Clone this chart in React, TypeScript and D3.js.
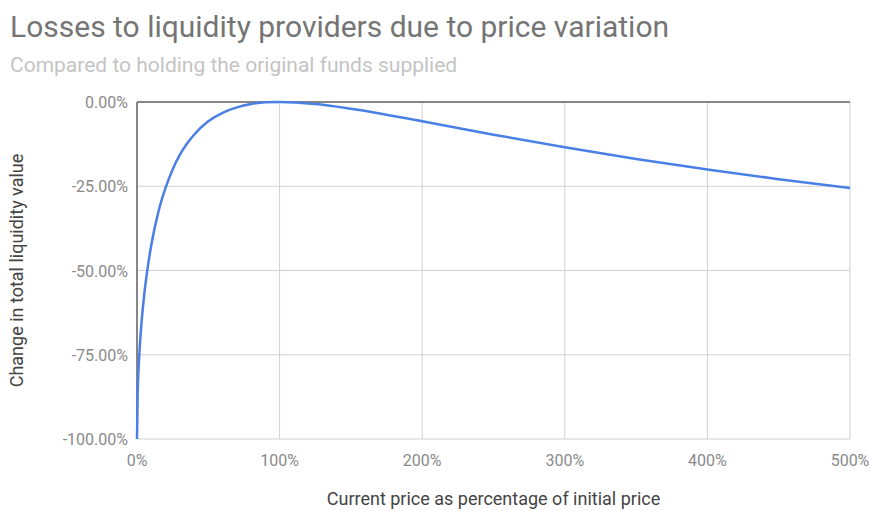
import React from 'react'
import * as d3 from 'd3'

// price ratio (current / initial) and change in liquidity value
const priceRatio = [0, 0.005, 0.01, 0.02, 0.03, 0.05, 0.07, 0.1, 0.15, 0.2, 0.25, 0.3, 0.35, 0.4, 0.5, 0.6, 0.7, 0.8, 0.9, 1.0, 1.25, 1.5, 2, 2.5, 3, 3.5, 4, 4.5, 5]
const valueChange = [-1, -0.859, -0.802, -0.723, -0.664, -0.574, -0.506, -0.425, -0.326, -0.255, -0.2, -0.157, -0.124, -0.097, -0.057, -0.032, -0.016, -0.006, -0.001, 0, -0.006, -0.02, -0.057, -0.097, -0.134, -0.169, -0.2, -0.229, -0.255]

const xTicks = [0, 1, 2, 3, 4, 5]
const yTicks = [0, -0.25, -0.5, -0.75, -1]

const title = 'Losses to liquidity providers due to price variation'
const subtitle = 'Compared to holding the original funds supplied'
const xTitle = 'Current price as percentage of initial price'
const yTitle = 'Change in total liquidity value'

const App = () => {
  const width = 870
  const height = 511
  const margin = { left: 137, right: 20, top: 102, bottom: 72 }

  const x = d3.scaleLinear().domain([0, 5]).range([margin.left, width - margin.right])
  const y = d3.scaleLinear().domain([-1, 0]).range([height - margin.bottom, margin.top])

  const pts = priceRatio.map((r, i) => [r, valueChange[i]] as [number, number])
  const line = d3
    .line<[number, number]>()
    .x((d) => x(d[0]))
    .y((d) => y(d[1]))
    .curve(d3.curveMonotoneX)

  const font = 'Roboto, Arial, sans-serif'
  // plain hyphen for negatives, like the original
  const fmtY = (t: number) => (t * 100).toFixed(2) + '%'

  return (
    <svg
      width={width}
      height={height}
      style={{ position: 'absolute', left: 0, top: 0, display: 'block', background: '#fff' }}
      fontFamily={font}
    >
      <text x={10} y={37} fontSize={30} fill="#757575">
        {title}
      </text>
      <text x={10} y={72} fontSize={21} fill="#c4c4c4">
        {subtitle}
      </text>

      {/* gridlines */}
      {yTicks.map((t) => (
        <line key={'gy' + t} x1={x(0)} x2={x(5)} y1={y(t)} y2={y(t)} stroke="#d0d0d0" strokeWidth={1} />
      ))}
      {xTicks.map((t) => (
        <line key={'gx' + t} x1={x(t)} x2={x(t)} y1={y(0)} y2={y(-1)} stroke="#d0d0d0" strokeWidth={1} />
      ))}
      {/* baseline at 0% and left axis */}
      <line x1={x(0)} x2={x(5)} y1={y(0)} y2={y(0)} stroke="#666" strokeWidth={1.5} />
      <line x1={x(0)} x2={x(0)} y1={y(0)} y2={y(-1)} stroke="#666" strokeWidth={1.5} />

      <path d={line(pts) || ''} fill="none" stroke="#4a80e6" strokeWidth={2.5} />

      {yTicks.map((t) => (
        <text key={'ty' + t} x={x(0) - 9} y={y(t) + 6} fontSize={16} fill="#8a8a8a" textAnchor="end">
          {fmtY(t)}
        </text>
      ))}
      {xTicks.map((t) => (
        <text key={'tx' + t} x={x(t)} y={y(-1) + 27} fontSize={16} fill="#8a8a8a" textAnchor="middle">
          {t * 100 + '%'}
        </text>
      ))}

      <text x={(x(0) + x(5)) / 2} y={505} fontSize={18} fill="#444" textAnchor="middle">
        {xTitle}
      </text>
      <text
        transform={`translate(23,${(y(0) + y(-1)) / 2}) rotate(-90)`}
        fontSize={18}
        fill="#444"
        textAnchor="middle"
      >
        {yTitle}
      </text>
    </svg>
  )
}

export default App
